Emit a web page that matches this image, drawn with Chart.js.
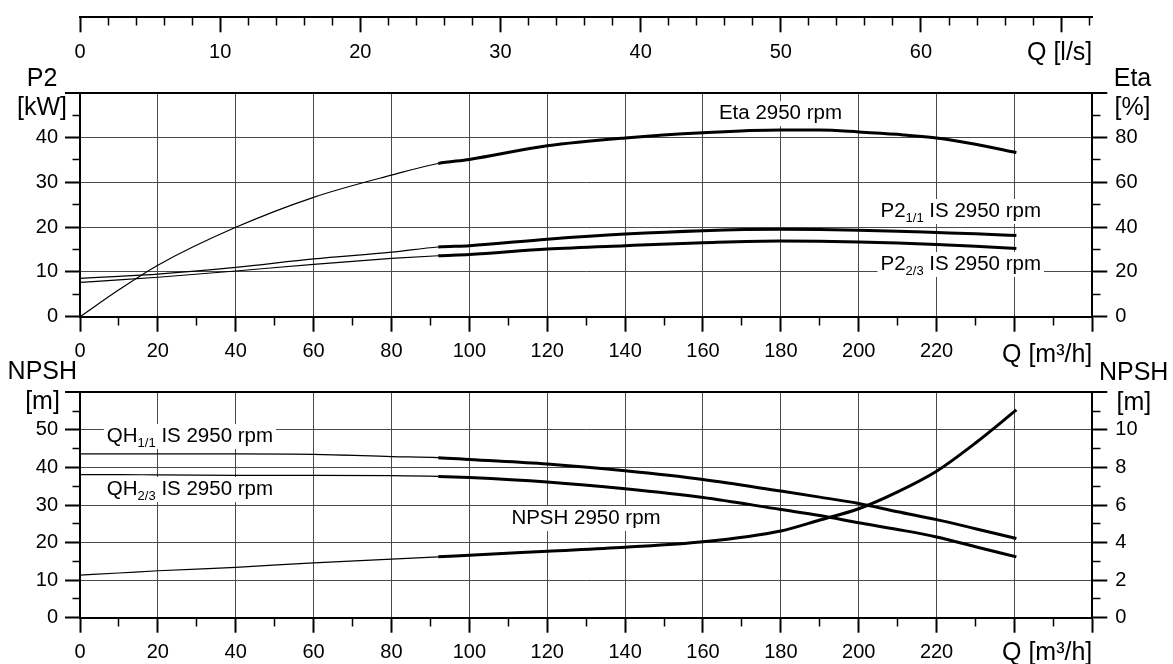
<!DOCTYPE html>
<html>
<head>
<meta charset="utf-8">
<title>Pump curves 2950 rpm</title>
<script src="https://cdn.jsdelivr.net/npm/chart.js@4.4.1/dist/chart.umd.min.js"></script>
<style>
    html, body { margin: 0; padding: 0; background: #fff; }
    #wrap { position: relative; width: 1173px; height: 664px; }
    #wrap canvas { position: absolute; left: 0; top: 0; }
</style>
</head>
<body>
<div id="wrap">
    <canvas id="flowAxis" width="1173" height="664"></canvas>
    <canvas id="powerChart" width="1173" height="664"></canvas>
    <canvas id="headChart" width="1173" height="664"></canvas>
</div>
<script>
// Flow points (m3/h)
const flowM3h = [0, 10, 20, 40, 60, 80, 92, 100, 120, 140, 160, 180, 190, 200, 210, 220, 230, 240.5];

// Top panel
const etaPct      = [0, 12, 23, 39.9, 53.3, 63.2, 68.4, 70.2, 76.3, 79.8, 82.1, 83.3, 83.3, 82.5, 81.4, 79.8, 77.0, 73.3];
const p2Full      = [8.57, 9.0, 9.5, 11.0, 12.9, 14.4, 15.56, 15.85, 17.3, 18.45, 19.2, 19.5, 19.45, 19.3, 19.1, 18.8, 18.5, 18.1];
const p2TwoThirds = [7.68, 8.2, 8.8, 10.2, 11.7, 13.0, 13.6, 13.9, 15.1, 15.85, 16.5, 16.9, 16.85, 16.7, 16.45, 16.1, 15.7, 15.2];

// Bottom panel
const headFull      = [43.6, 43.6, 43.6, 43.6, 43.5, 42.9, 42.6, 42.1, 40.9, 39.1, 36.8, 33.7, 32.1, 30.4, 28.2, 26.1, 23.7, 21.1];
const headTwoThirds = [38.1, 38.1, 38.0, 37.9, 37.9, 37.8, 37.6, 37.3, 36.1, 34.3, 32.0, 28.8, 27.2, 25.3, 23.5, 21.5, 18.9, 16.2];
const npshM         = [2.27, 2.38, 2.5, 2.68, 2.92, 3.12, 3.24, 3.33, 3.54, 3.75, 4.04, 4.62, 5.2, 5.8, 6.7, 7.8, 9.3, 11.06];

// Tick labels
const qTickLabels    = [0, 20, 40, 60, 80, 100, 120, 140, 160, 180, 200, 220];
const lsTickLabels   = [0, 10, 20, 30, 40, 50, 60];
const p2TickLabels   = [0, 10, 20, 30, 40];
const etaTickLabels  = [0, 20, 40, 60, 80];
const headTickLabels = [0, 10, 20, 30, 40, 50];
const npshTickLabels = [0, 2, 4, 6, 8, 10];

const THICK_FROM = 92;      // curves are drawn bold from this flow on
const Q_MAX = 260;
const LS_PER_M3H = 1 / 3.6;

Chart.defaults.font.family = '"Liberation Sans", Arial, Helvetica, sans-serif';
Chart.defaults.color = '#000';

const GRID = '#4a4a4a';
const TICK_LEN = 15;
const MINOR_LEN = 7.5;
const TICK_FONT = 20;

function isOn(v, step) {
    return Math.abs(v / step - Math.round(v / step)) < 1e-6;
}

// Build one axis: long ticks on majors, short ticks on minors, grid on majors only
function makeAxis(side, min, max, step, majorStep, labels, size, drawGrid, padding) {
    const outerFirst = side === 'left';
    const tickVal = ctx => (ctx.tick ? ctx.tick.value : 0);
    return {
        type: 'linear',
        position: side,
        min: min,
        max: max,
        afterFit: s => {
            if (s.isHorizontal()) s.height = size; else s.width = size;
        },
        ticks: {
            stepSize: step,
            includeBounds: false,
            autoSkip: false,
            maxRotation: 0,
            padding: padding,
            font: { size: TICK_FONT },
            callback: v => (labels.includes(v) ? String(v) : '')
        },
        border: { color: '#000', width: 2 },
        grid: {
            drawOnChartArea: drawGrid,
            color: ctx => {
                const v = tickVal(ctx);
                if (v === max) return '#000';
                if (v === min) return 'rgba(0,0,0,0)';
                return isOn(v, majorStep) ? GRID : 'rgba(0,0,0,0)';
            },
            lineWidth: ctx => (tickVal(ctx) === max ? 2 : 1),
            tickLength: TICK_LEN,
            tickColor: '#000',
            tickWidth: ctx => (isOn(tickVal(ctx), majorStep) ? 2 : 1.5),
            tickBorderDash: ctx => {
                if (isOn(tickVal(ctx), majorStep)) return [];
                return outerFirst ? [0, TICK_LEN - MINOR_LEN, MINOR_LEN, 100] : [MINOR_LEN, 100];
            }
        }
    };
}

function flowAxis(size) {
    const ax = makeAxis('bottom', 0, Q_MAX, 10, 20, qTickLabels, size, true, 8);
    // vertical grid lines must not cover the frame
    ax.grid.color = ctx => {
        const v = ctx.tick ? ctx.tick.value : 0;
        if (v === 0 || v === Q_MAX) return 'rgba(0,0,0,0)';
        return isOn(v, 20) ? GRID : 'rgba(0,0,0,0)';
    };
    ax.grid.lineWidth = 1;
    return ax;
}

function series(values, axisId) {
    return {
        data: flowM3h.map((q, i) => ({ x: q, y: values[i] })),
        yAxisID: axisId,
        borderColor: '#000',
        borderWidth: 3,
        pointRadius: 0,
        fill: false,
        cubicInterpolationMode: 'monotone',
        segment: {
            borderWidth: s => (s.p0.parsed.x >= THICK_FROM ? 3 : 1.2)
        }
    };
}

// Text drawn on the canvas: axis names and curve names (with subscripts)
function drawRich(ctx, x, y, parts, box) {
    const mainFont = '20.5px "Liberation Sans", Arial, sans-serif';
    const subFont = '13px "Liberation Sans", Arial, sans-serif';
    let w = 0;
    parts.forEach(p => {
        ctx.font = p.sub ? subFont : mainFont;
        w += ctx.measureText(p.text).width;
    });
    if (box) {
        ctx.fillStyle = '#fff';
        ctx.fillRect(x - 3, y - 18, w + 6, 25);
    }
    ctx.fillStyle = '#000';
    ctx.textAlign = 'left';
    ctx.textBaseline = 'alphabetic';
    let cx = x;
    parts.forEach(p => {
        ctx.font = p.sub ? subFont : mainFont;
        ctx.fillText(p.text, cx, p.sub ? y + 5 : y);
        cx += ctx.measureText(p.text).width;
    });
}

function textPlugin(cfg) {
    return {
        id: 'pumpText',
        beforeDatasetsDraw(chart) {
            const ctx = chart.ctx;
            ctx.save();
            (cfg.curveLabels || []).forEach(l => {
                const x = chart.scales.x.getPixelForValue(l.q);
                const y = chart.scales[l.axis].getPixelForValue(l.v);
                drawRich(ctx, x, y, l.parts, true);
            });
            ctx.restore();
        },
        afterDraw(chart) {
            const ctx = chart.ctx;
            const a = chart.chartArea;
            ctx.save();
            ctx.fillStyle = '#000';
            ctx.textBaseline = 'alphabetic';
            ctx.font = '25px "Liberation Sans", Arial, sans-serif';
            (cfg.titles || []).forEach(t => {
                ctx.textAlign = t.align;
                const x = t.side === 'left' ? a.left + t.dx : a.right + t.dx;
                const y = (t.from === 'bottom' ? a.bottom : a.top) + t.dy;
                ctx.fillText(t.text, x, y);
            });
            ctx.restore();
        }
    };
}

const baseOptions = {
    responsive: false,
    animation: false,
    events: [],
    plugins: { legend: { display: false }, tooltip: { enabled: false } }
};

// Flow axis in l/s along the top
new Chart(document.getElementById('flowAxis'), {
    type: 'line',
    data: { datasets: [] },
    options: {
        ...baseOptions,
        layout: { padding: { left: 80, right: 80.7, top: 0, bottom: 0 } },
        scales: {
            x: makeAxis('bottom', 0, Q_MAX * LS_PER_M3H, 2, 10, lsTickLabels, 646.7, false, 8),
            y: { display: false, min: 0, max: 1 }
        }
    },
    plugins: [textPlugin({
        titles: [{ text: 'Q [l/s]', side: 'right', align: 'right', dx: 0, dy: 60.2, from: 'top' }]
    })]
});

// Power and efficiency
new Chart(document.getElementById('powerChart'), {
    type: 'line',
    data: {
        datasets: [
            series(etaPct, 'eta'),
            series(p2Full, 'y'),
            series(p2TwoThirds, 'y')
        ]
    },
    options: {
        ...baseOptions,
        layout: { padding: { left: 0, right: 0, top: 92.7, bottom: 0 } },
        scales: {
            x: flowAxis(347.3),
            y: makeAxis('left', 0, 50, 5, 10, p2TickLabels, 80, true, 7),
            eta: makeAxis('right', 0, 100, 10, 20, etaTickLabels, 80.7, false, 8)
        }
    },
    plugins: [textPlugin({
        titles: [
            { text: 'P2', side: 'left', align: 'center', dx: -38, dy: -6.7, from: 'top' },
            { text: '[kW]', side: 'left', align: 'center', dx: -38, dy: 22.3, from: 'top' },
            { text: 'Eta', side: 'right', align: 'center', dx: 40.2, dy: -6.7, from: 'top' },
            { text: '[%]', side: 'right', align: 'center', dx: 40.2, dy: 22.3, from: 'top' },
            { text: 'Q [m\u00b3/h]', side: 'right', align: 'right', dx: 0, dy: 45.3, from: 'bottom' }
        ],
        curveLabels: [
            { q: 164.1, v: 44.1, axis: 'y', parts: [{ text: 'Eta 2950 rpm' }] },
            { q: 205.6, v: 22.25, axis: 'y', parts: [{ text: 'P2' }, { text: '1/1', sub: true }, { text: ' IS 2950 rpm' }] },
            { q: 205.6, v: 10.42, axis: 'y', parts: [{ text: 'P2' }, { text: '2/3', sub: true }, { text: ' IS 2950 rpm' }] }
        ]
    })]
});

// Head and NPSH
new Chart(document.getElementById('headChart'), {
    type: 'line',
    data: {
        datasets: [
            series(headFull, 'y'),
            series(headTwoThirds, 'y'),
            series(npshM, 'npsh')
        ]
    },
    options: {
        ...baseOptions,
        layout: { padding: { left: 0, right: 0, top: 392.3, bottom: 0 } },
        scales: {
            x: flowAxis(46.3),
            y: makeAxis('left', 0, 60, 5, 10, headTickLabels, 80, true, 7),
            npsh: makeAxis('right', 0, 12, 1, 2, npshTickLabels, 80.7, false, 8)
        }
    },
    plugins: [textPlugin({
        titles: [
            { text: 'NPSH', side: 'left', align: 'center', dx: -37.7, dy: -13, from: 'top' },
            { text: '[m]', side: 'left', align: 'center', dx: -37.5, dy: 17, from: 'top' },
            { text: 'NPSH', side: 'right', align: 'center', dx: 41.4, dy: -12.8, from: 'top' },
            { text: '[m]', side: 'right', align: 'center', dx: 41.5, dy: 17.7, from: 'top' },
            { text: 'Q [m\u00b3/h]', side: 'right', align: 'right', dx: 0, dy: 42, from: 'bottom' }
        ],
        curveLabels: [
            { q: 6.9, v: 46.8, axis: 'y', parts: [{ text: 'QH' }, { text: '1/1', sub: true }, { text: ' IS 2950 rpm' }] },
            { q: 6.9, v: 32.66, axis: 'y', parts: [{ text: 'QH' }, { text: '2/3', sub: true }, { text: ' IS 2950 rpm' }] },
            { q: 110.8, v: 24.94, axis: 'y', parts: [{ text: 'NPSH 2950 rpm' }] }
        ]
    })]
});
</script>
</body>
</html>
